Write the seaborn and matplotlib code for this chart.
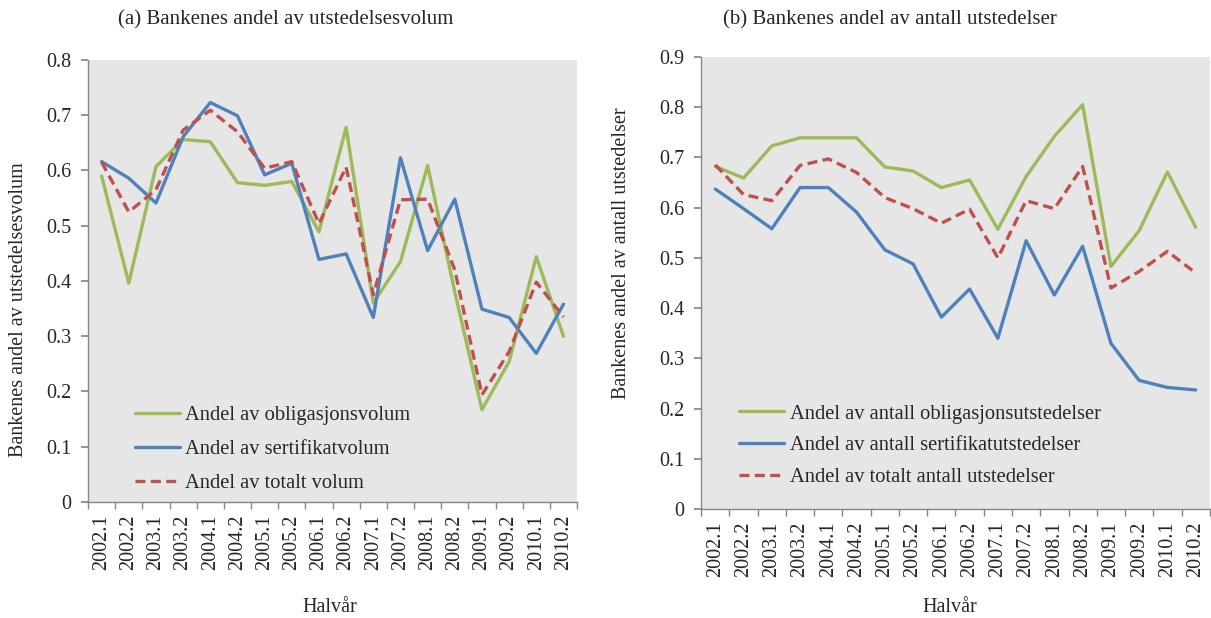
import numpy as np
import pandas as pd
import seaborn as sns
import matplotlib.pyplot as plt
from matplotlib.ticker import FixedLocator

sns.set_theme(style="white")
plt.rcParams['font.family'] = ['Liberation Serif', 'DejaVu Serif']

periods = ['2002.1', '2002.2', '2003.1', '2003.2', '2004.1', '2004.2',
           '2005.1', '2005.2', '2006.1', '2006.2', '2007.1', '2007.2',
           '2008.1', '2008.2', '2009.1', '2009.2', '2010.1', '2010.2']

# (a) volume shares
obl_vol = [0.590, 0.396, 0.607, 0.656, 0.652, 0.578, 0.573, 0.580, 0.489,
           0.678, 0.360, 0.435, 0.609, 0.380, 0.167, 0.254, 0.444, 0.300]
sert_vol = [0.616, 0.586, 0.541, 0.661, 0.723, 0.699, 0.592, 0.613, 0.439,
            0.449, 0.334, 0.623, 0.455, 0.548, 0.349, 0.334, 0.269, 0.358]
tot_vol = [0.615, 0.525, 0.565, 0.673, 0.709, 0.670, 0.604, 0.616, 0.504,
           0.606, 0.375, 0.547, 0.548, 0.420, 0.194, 0.272, 0.398, 0.335]

# (b) count shares
obl_ant = [0.682, 0.659, 0.723, 0.739, 0.739, 0.739, 0.681, 0.673, 0.640,
           0.655, 0.557, 0.662, 0.742, 0.805, 0.483, 0.554, 0.671, 0.561]
sert_ant = [0.637, 0.598, 0.558, 0.640, 0.640, 0.591, 0.516, 0.488, 0.382,
            0.438, 0.340, 0.534, 0.426, 0.523, 0.330, 0.256, 0.242, 0.237]
tot_ant = [0.685, 0.626, 0.614, 0.684, 0.697, 0.670, 0.620, 0.598, 0.569,
           0.597, 0.500, 0.614, 0.598, 0.682, 0.440, 0.473, 0.513, 0.470]

labels_a = ['Andel av obligasjonsvolum', 'Andel av sertifikatvolum',
            'Andel av totalt volum']
labels_b = ['Andel av antall obligasjonsutstedelser',
            'Andel av antall sertifikatutstedelser',
            'Andel av totalt antall utstedelser']

green, blue, red = '#9BBB59', '#4F81BD', '#C0504D'


def long_df(series, labels):
    rows = []
    for vals, lab in zip(series, labels):
        for p, v in zip(periods, vals):
            rows.append({'Halvår': p, 'verdi': v, 'serie': lab})
    return pd.DataFrame(rows)


def draw(ax, df, labels, ymax, leg_xy, spacing):
    pal = dict(zip(labels, [green, blue, red]))
    dashes = dict(zip(labels, ['', '', (3, 1.6)]))
    sns.lineplot(data=df, x='Halvår', y='verdi', hue='serie', style='serie',
                 palette=pal, dashes=dashes, hue_order=labels,
                 style_order=labels, linewidth=2.4, ax=ax, sort=False)
    ax.set_facecolor('#E6E6E6')
    ax.set_xlim(-0.5, len(periods) - 0.5)
    ax.set_ylim(0, ymax)
    ticks = np.arange(0, ymax + 0.05, 0.1)
    ax.set_yticks(ticks)
    ax.set_yticklabels(['0'] + [f'{t:.1f}' for t in ticks[1:]])
    ax.set_xticks(range(len(periods)))
    ax.set_xticklabels(periods, rotation=90)
    ax.xaxis.set_minor_locator(FixedLocator(np.arange(-0.5, len(periods), 1)))
    ax.tick_params(axis='x', which='major', length=0, pad=9, labelsize=14.5)
    ax.tick_params(axis='x', which='minor', length=5, color='#868686',
                   direction='out', bottom=True)
    ax.tick_params(axis='y', length=5, color='#868686', direction='out',
                   left=True, pad=7, labelsize=14.5)
    for s in ['top', 'right']:
        ax.spines[s].set_visible(False)
    for s in ['left', 'bottom']:
        ax.spines[s].set_color('#868686')
        ax.spines[s].set_linewidth(1)
    ax.set_xlabel('')
    ax.set_ylabel('')
    leg = ax.legend(loc='upper left', bbox_to_anchor=leg_xy,
                    frameon=False, fontsize=14.8, handlelength=2.2,
                    handletextpad=0.25, labelspacing=spacing, borderpad=0,
                    borderaxespad=0)
    for h in leg.get_lines():
        h.set_linewidth(2.4)


fig = plt.figure(figsize=(12.11, 6.18), dpi=100)
ax1 = fig.add_axes([0.0727, 0.1877, 0.4038, 0.7153])
ax2 = fig.add_axes([0.5790, 0.1764, 0.4200, 0.7314])

draw(ax1, long_df([obl_vol, sert_vol, tot_vol], labels_a), labels_a, 0.8,
     (0.096, 0.217), 0.70)
draw(ax2, long_df([obl_ant, sert_ant, tot_ant], labels_b), labels_b, 0.9,
     (0.0748, 0.232), 0.60)

fig.text(0.2357, 0.968, '(a) Bankenes andel av utstedelsesvolum',
         ha='center', va='center', fontsize=15)
fig.text(0.735, 0.968, '(b) Bankenes andel av antall utstedelser',
         ha='center', va='center', fontsize=15)
fig.text(0.0149, 1 - 310 / 618, 'Bankenes andel av utstedelsesvolum',
         rotation=90, ha='center', va='center', fontsize=14.5)
fig.text(0.5136, 1 - 253 / 618, 'Bankenes andel av antall utstedelser',
         rotation=90, ha='center', va='center', fontsize=14.5)
fig.text(330 / 1211, 1 - 607 / 618, 'Halvår', ha='center', va='center',
         fontsize=14.5)
fig.text(950 / 1211, 1 - 607 / 618, 'Halvår', ha='center', va='center',
         fontsize=14.5)

fig.savefig('out.png', dpi=100)
